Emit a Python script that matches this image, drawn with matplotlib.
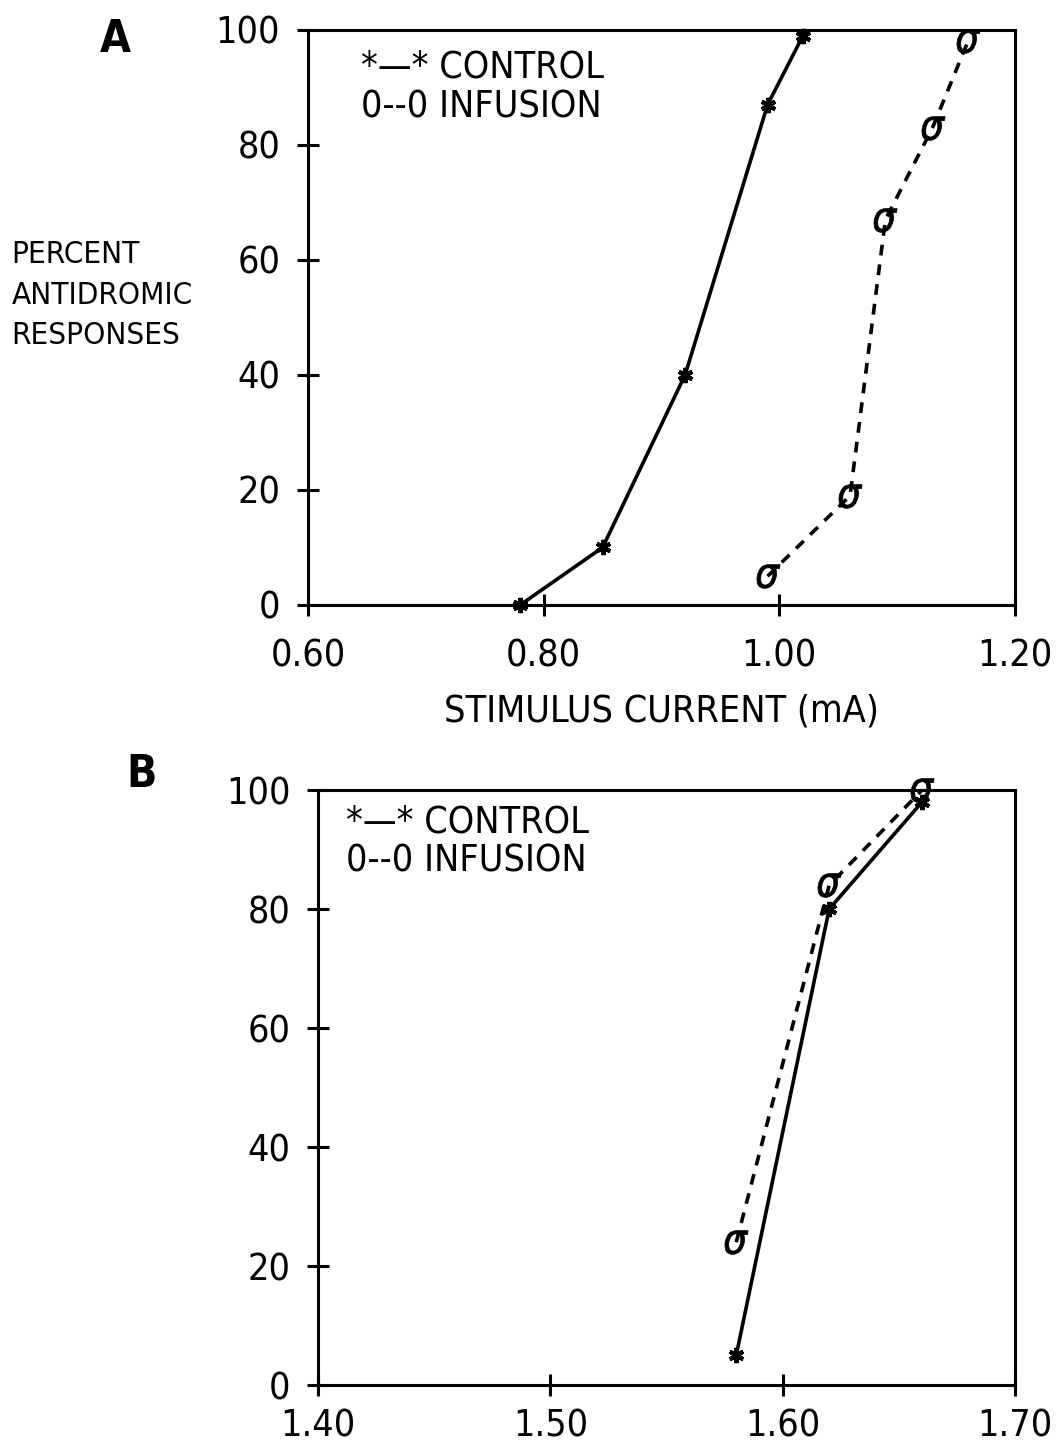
import matplotlib
matplotlib.use("Agg")
import matplotlib.pyplot as plt

# =========================
# DATA
# =========================

# Panel A
a_control_x = [0.78, 0.85, 0.92, 0.99, 1.02]
a_control_y = [0, 10, 40, 87, 99]
a_infusion_x = [0.99, 1.06, 1.09, 1.13, 1.16]
a_infusion_y = [5, 19, 67, 83, 98]
a_xticks = [0.60, 0.80, 1.00, 1.20]
a_xticklabels = ["0.60", "0.80", "1.00", "1.20"]

# Panel B
b_control_x = [1.58, 1.62, 1.66]
b_control_y = [5, 80, 98]
b_infusion_x = [1.58, 1.62, 1.66]
b_infusion_y = [24, 84, 100]
b_xticks = [1.40, 1.50, 1.60, 1.70]
b_xticklabels = ["1.40", "1.50", "1.60", "1.70"]

yticks = [0, 20, 40, 60, 80, 100]

# =========================
# FONT (narrow look like the old plotter lettering)
# =========================

plt.rcParams["font.family"] = ["DejaVu Sans"]
plt.rcParams["font.stretch"] = "condensed"
FS = 27


def style_axes(ax, xlim, xticks, xticklabels, xpad=16):
    ax.set_xlim(*xlim)
    ax.set_ylim(0, 100)
    ax.set_xticks(xticks)
    ax.set_xticklabels(xticklabels)
    ax.set_yticks(yticks)
    for s in ax.spines.values():
        s.set_linewidth(2.2)
    ax.tick_params(direction="inout", length=16, width=2.2, labelsize=FS, pad=12)
    ax.tick_params(axis="x", pad=xpad)
    for lab in ax.get_xticklabels() + ax.get_yticklabels():
        lab.set_fontstretch("condensed")


def draw_panel(ax, cx, cy, ix, iy):
    ax.plot(cx, cy, color="black", lw=2.6, marker=(6, 2, 0), ms=11, mew=3,
            clip_on=False, zorder=3)
    ax.plot(ix, iy, color="black", lw=2.6, ls=(0, (3, 2.5)), marker=r"$\sigma$",
            ms=17, mew=0.6, clip_on=False, zorder=3)


fig = plt.figure(figsize=(10.57, 14.48), dpi=100)

# =========================
# PANEL A
# =========================

axA = fig.add_axes([0.2914, 0.5822, 0.6689, 0.3971])
draw_panel(axA, a_control_x, a_control_y, a_infusion_x, a_infusion_y)
style_axes(axA, (0.60, 1.20), a_xticks, a_xticklabels)
axA.set_xlabel("STIMULUS CURRENT (mA)", fontsize=FS, labelpad=14,
               fontstretch="condensed")
axA.text(0.075, 0.935, "*—* CONTROL", transform=axA.transAxes, fontsize=FS,
         va="center", ha="left", fontstretch="condensed")
axA.text(0.075, 0.865, "0--0 INFUSION", transform=axA.transAxes, fontsize=FS,
         va="center", ha="left", fontstretch="condensed")

fig.text(0.109, 0.973, "A", fontsize=32, fontweight="bold", ha="center", va="center")
fig.text(0.011, 0.796, "PERCENT\nANTIDROMIC\nRESPONSES", fontsize=22.5, ha="left",
         va="center", linespacing=1.5, fontstretch="condensed")

# =========================
# PANEL B
# =========================

axB = fig.add_axes([0.3009, 0.0435, 0.6594, 0.4109])
draw_panel(axB, b_control_x, b_control_y, b_infusion_x, b_infusion_y)
style_axes(axB, (1.40, 1.70), b_xticks, b_xticklabels, xpad=9)
axB.text(0.04, 0.945, "*—* CONTROL", transform=axB.transAxes, fontsize=FS,
         va="center", ha="left", fontstretch="condensed")
axB.text(0.04, 0.88, "0--0 INFUSION", transform=axB.transAxes, fontsize=FS,
         va="center", ha="left", fontstretch="condensed")

fig.text(0.134, 0.465, "B", fontsize=32, fontweight="bold", ha="center", va="center")

fig.savefig("out.png", dpi=100)
